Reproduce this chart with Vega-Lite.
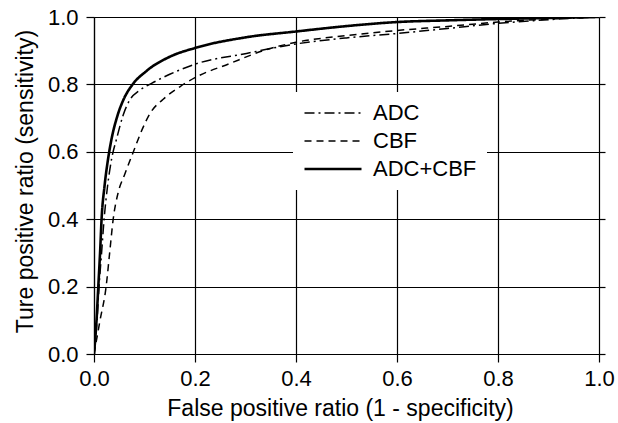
{
  "$schema": "https://vega.github.io/schema/vega-lite/v6.json",
  "width": 505,
  "height": 337,
  "autosize": {"type": "none"},
  "padding": {"left": 94, "top": 17, "right": 19, "bottom": 69},
  "background": "white",
  "config": {
    "view": {"stroke": null},
    "font": "Liberation Sans",
    "axis": {
      "grid": true,
      "gridColor": "black",
      "gridOpacity": 1,
      "gridWidth": 1.2,
      "domainColor": "black",
      "domainWidth": 1.2,
      "tickColor": "black",
      "tickWidth": 1.2,
      "tickSize": 8,
      "labelFlush": false,
      "labelFont": "Liberation Sans",
      "labelFontSize": 22,
      "labelColor": "black",
      "titleFont": "Liberation Sans",
      "titleFontSize": 23,
      "titleFontWeight": "normal",
      "titleColor": "black"
    },
    "legend": {
      "orient": "none",
      "legendX": 199,
      "legendY": 75,
      "fillColor": "white",
      "padding": 10,
      "symbolType": "M-1,0H5",
      "symbolSize": 361,
      "symbolStrokeColor": "black",
      "labelFont": "Liberation Sans",
      "labelFontSize": 22,
      "labelColor": "black",
      "labelOffset": 48,
      "rowPadding": 6
    }
  },
  "data": {
    "values": [
      {"series": "ADC", "x": 0, "y": 0},
      {"series": "ADC", "x": 0.006, "y": 0.1},
      {"series": "ADC", "x": 0.01, "y": 0.2},
      {"series": "ADC", "x": 0.015, "y": 0.3},
      {"series": "ADC", "x": 0.02, "y": 0.4},
      {"series": "ADC", "x": 0.027, "y": 0.5},
      {"series": "ADC", "x": 0.035, "y": 0.58},
      {"series": "ADC", "x": 0.045, "y": 0.64},
      {"series": "ADC", "x": 0.058, "y": 0.71},
      {"series": "ADC", "x": 0.071, "y": 0.754},
      {"series": "ADC", "x": 0.09, "y": 0.782},
      {"series": "ADC", "x": 0.114, "y": 0.803},
      {"series": "ADC", "x": 0.15, "y": 0.83},
      {"series": "ADC", "x": 0.2, "y": 0.86},
      {"series": "ADC", "x": 0.302, "y": 0.892},
      {"series": "ADC", "x": 0.4, "y": 0.92},
      {"series": "ADC", "x": 0.5, "y": 0.938},
      {"series": "ADC", "x": 0.6, "y": 0.951},
      {"series": "ADC", "x": 0.7, "y": 0.966},
      {"series": "ADC", "x": 0.8, "y": 0.981},
      {"series": "ADC", "x": 0.9, "y": 0.992},
      {"series": "ADC", "x": 1, "y": 1},
      {"series": "CBF", "x": 0, "y": 0},
      {"series": "CBF", "x": 0.012, "y": 0.1},
      {"series": "CBF", "x": 0.024, "y": 0.2},
      {"series": "CBF", "x": 0.031, "y": 0.3},
      {"series": "CBF", "x": 0.038, "y": 0.4},
      {"series": "CBF", "x": 0.048, "y": 0.48},
      {"series": "CBF", "x": 0.06, "y": 0.53},
      {"series": "CBF", "x": 0.078, "y": 0.6},
      {"series": "CBF", "x": 0.095, "y": 0.665},
      {"series": "CBF", "x": 0.111, "y": 0.714},
      {"series": "CBF", "x": 0.137, "y": 0.756},
      {"series": "CBF", "x": 0.17, "y": 0.793},
      {"series": "CBF", "x": 0.2, "y": 0.82},
      {"series": "CBF", "x": 0.269, "y": 0.862},
      {"series": "CBF", "x": 0.335, "y": 0.9},
      {"series": "CBF", "x": 0.4, "y": 0.925},
      {"series": "CBF", "x": 0.5, "y": 0.945},
      {"series": "CBF", "x": 0.6, "y": 0.96},
      {"series": "CBF", "x": 0.7, "y": 0.972},
      {"series": "CBF", "x": 0.8, "y": 0.985},
      {"series": "CBF", "x": 0.9, "y": 0.994},
      {"series": "CBF", "x": 1, "y": 1},
      {"series": "ADC+CBF", "x": 0, "y": 0},
      {"series": "ADC+CBF", "x": 0.005, "y": 0.1},
      {"series": "ADC+CBF", "x": 0.0085, "y": 0.2},
      {"series": "ADC+CBF", "x": 0.012, "y": 0.3},
      {"series": "ADC+CBF", "x": 0.015, "y": 0.4},
      {"series": "ADC+CBF", "x": 0.021, "y": 0.5},
      {"series": "ADC+CBF", "x": 0.028, "y": 0.58},
      {"series": "ADC+CBF", "x": 0.035, "y": 0.64},
      {"series": "ADC+CBF", "x": 0.045, "y": 0.7},
      {"series": "ADC+CBF", "x": 0.06, "y": 0.76},
      {"series": "ADC+CBF", "x": 0.075, "y": 0.797},
      {"series": "ADC+CBF", "x": 0.104, "y": 0.84},
      {"series": "ADC+CBF", "x": 0.15, "y": 0.882},
      {"series": "ADC+CBF", "x": 0.2, "y": 0.908},
      {"series": "ADC+CBF", "x": 0.302, "y": 0.94},
      {"series": "ADC+CBF", "x": 0.4, "y": 0.957},
      {"series": "ADC+CBF", "x": 0.5, "y": 0.973},
      {"series": "ADC+CBF", "x": 0.6, "y": 0.985},
      {"series": "ADC+CBF", "x": 0.7, "y": 0.99},
      {"series": "ADC+CBF", "x": 0.8, "y": 0.994},
      {"series": "ADC+CBF", "x": 0.9, "y": 0.997},
      {"series": "ADC+CBF", "x": 1, "y": 1}
    ]
  },
  "resolve": {"axis": {"y": "independent"}},
  "layer": [
    {
      "mark": {"type": "line", "color": "black", "clip": true, "interpolate": "monotone"},
      "encoding": {
        "x": {
          "field": "x", "type": "quantitative",
          "scale": {"domain": [0, 1], "nice": false, "zero": false},
          "axis": {"values": [0, 0.2, 0.4, 0.6, 0.8, 1], "format": ".1f", "labelPadding": 6, "titlePadding": 8, "titleX": 246, "title": "False positive ratio (1 - specificity)"}
        },
        "y": {
          "field": "y", "type": "quantitative",
          "scale": {"domain": [0, 1], "nice": false, "zero": false},
          "axis": {"values": [0, 0.2, 0.4, 0.6, 0.8, 1], "format": ".1f", "labelPadding": 8, "titlePadding": 10, "titleY": 164, "title": "Ture positive ratio (sensitivity)"}
        },
        "strokeDash": {
          "field": "series", "type": "nominal",
          "scale": {"domain": ["ADC", "CBF", "ADC+CBF"], "range": [[10, 4, 2, 4], [7, 5], [1, 0]]},
          "legend": {"title": null}
        },
        "strokeWidth": {
          "field": "series", "type": "ordinal",
          "scale": {"type": "ordinal", "domain": ["ADC", "CBF", "ADC+CBF"], "range": [1.5, 1.5, 2.6]},
          "legend": {"title": null}
        }
      }
    },
    {
      "mark": {"type": "point", "opacity": 0},
      "encoding": {
        "x": {"field": "x", "type": "quantitative", "scale": {"domain": [0, 1], "nice": false, "zero": false}},
        "y": {
          "field": "y", "type": "quantitative",
          "scale": {"domain": [0, 1], "nice": false, "zero": false},
          "axis": {"orient": "right", "values": [0, 0.2, 0.4, 0.6, 0.8, 1], "labels": false, "grid": false, "domain": false, "tickSize": 6, "title": null}
        }
      }
    }
  ]
}
